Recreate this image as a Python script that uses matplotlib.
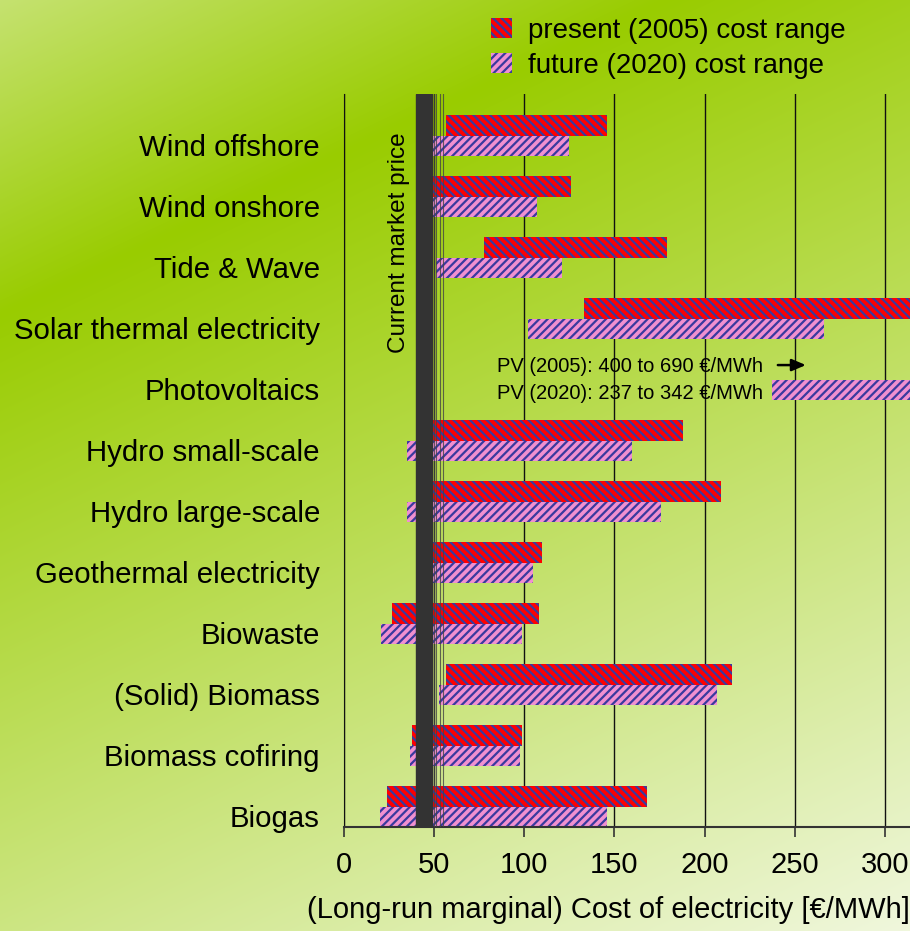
import numpy as np
import matplotlib.pyplot as plt
from matplotlib.patches import Patch
from matplotlib.transforms import ScaledTranslation

plt.rcParams['font.family'] = ['Liberation Sans', 'DejaVu Sans']
plt.rcParams['hatch.linewidth'] = 1.6

# Dados, em €/MWh
tecnologias = ['Wind offshore', 'Wind onshore', 'Tide & Wave', 'Solar thermal electricity',
               'Photovoltaics', 'Hydro small-scale', 'Hydro large-scale', 'Geothermal electricity',
               'Biowaste', '(Solid) Biomass', 'Biomass cofiring', 'Biogas']
presente_min = [57, 49, 78, 133, 400, 49, 49, 49, 27, 57, 38, 24]
presente_max = [146, 126, 179, 330, 690, 188, 209, 110, 108, 215, 99, 168]
futuro_min = [49, 49, 51, 102, 237, 35, 35, 49, 21, 53, 37, 20]
futuro_max = [125, 107, 121, 266, 342, 160, 176, 105, 99, 207, 98, 146]

preco_mercado = (40, 49)
linhas_mercado = [50, 51, 53.6, 55]
x_ticks = [0, 50, 100, 150, 200, 250, 300]

W, H = 910, 931
fig = plt.figure(figsize=(W / 100, H / 100), dpi=100)

# fundo em degradê verde
yy, xx = np.mgrid[0:H, 0:W]
s = 0.428 * (xx - 30) + 0.904 * (yy - 300)
t = np.where(s >= 0, s * 0.00095, -s * 0.0016)
t = np.clip(t, 0, 0.92)[..., None]
verde = np.array([153, 204, 0]) / 255
branco = np.array([250, 252, 246]) / 255
fundo = verde * (1 - t) + branco * t
bg = fig.add_axes([0, 0, 1, 1])
bg.imshow(fundo, aspect='auto', extent=[0, 1, 0, 1])
bg.axis('off')

ax = fig.add_axes([343.5 / W, 1 - 827 / H, (W - 343.5) / W, (827 - 94) / H])
ax.patch.set_visible(False)

idx = np.arange(len(tecnologias))
pmin = np.array(presente_min)
pmax = np.array(presente_max)
fmin = np.array(futuro_min)
fmax = np.array(futuro_max)

ax.barh(idx - 0.17, pmax - pmin, left=pmin, height=0.34, color='#ff0000',
        edgecolor='#3a3a9e', linewidth=0, hatch='\\\\\\\\', zorder=2)
ax.barh(idx + 0.17, fmax - fmin, left=fmin, height=0.34, color='#f090d0',
        edgecolor='#3a3a9e', linewidth=0, hatch='////', zorder=2)

# preço de mercado atual
ax.axvspan(preco_mercado[0], preco_mercado[1], color='#333333', zorder=4)
for xl in linhas_mercado:
    ax.axvline(xl, color='#444444', lw=0.8, alpha=0.8, zorder=3)
ax.text(31, 1.75, 'Current market price', rotation=90, ha='center', va='center',
        fontsize=17.5, zorder=5)

ax.text(85, 3.79, 'PV (2005): 400 to 690 €/MWh', fontsize=14.5, va='center', ha='left', zorder=5)
ax.text(85, 4.22, 'PV (2020): 237 to 342 €/MWh', fontsize=14.5, va='center', ha='left', zorder=5)
ax.annotate('', xy=(256, 3.76), xytext=(240.5, 3.76),
            arrowprops=dict(arrowstyle='-|>,head_width=0.3,head_length=0.7',
                            color='black', lw=1.8, mutation_scale=12,
                            shrinkA=0, shrinkB=0), zorder=5)

ax.set_xlim(0, (W - 343.5) / 1.806)
ax.set_ylim(11.333, -0.684)
ax.set_xticks(x_ticks)
ax.set_xticklabels([str(v) for v in x_ticks], fontsize=21)
ax.set_yticks(idx)
ax.set_yticklabels(tecnologias, fontsize=21.2)
ax.tick_params(axis='y', length=0, pad=17)
ax.tick_params(axis='x', direction='out', length=7, width=1.2, color='#333333', pad=10)
ax.xaxis.grid(True, color='#111111', lw=1)
ax.set_axisbelow(True)
for lab in ax.get_yticklabels():
    lab.set_transform(lab.get_transform() + ScaledTranslation(0, -9.3 / 100, fig.dpi_scale_trans))

for lado in ['top', 'right']:
    ax.spines[lado].set_visible(False)
ax.spines['left'].set_color('#111111')
ax.spines['bottom'].set_color('#333333')
ax.spines['bottom'].set_linewidth(1.5)

ax.set_xlabel('(Long-run marginal) Cost of electricity [€/MWh]', fontsize=21, labelpad=4)
ax.xaxis.set_label_coords(1.0, -0.094)
ax.xaxis.label.set_ha('right')

legenda = [Patch(facecolor='#ff0000', edgecolor='#3a3a9e', linewidth=0, hatch='\\\\\\\\',
                 label='present (2005) cost range'),
           Patch(facecolor='#f090d0', edgecolor='#3a3a9e', linewidth=0, hatch='////',
                 label='future (2020) cost range')]
fig.legend(handles=legenda, loc='upper left', bbox_to_anchor=(491 / W, 1 - 18 / H),
           frameon=False, fontsize=20, handlelength=0.74, handleheight=0.74,
           handletextpad=0.6, labelspacing=0.32, borderpad=0, borderaxespad=0)

fig.savefig('out.png', dpi=100)
